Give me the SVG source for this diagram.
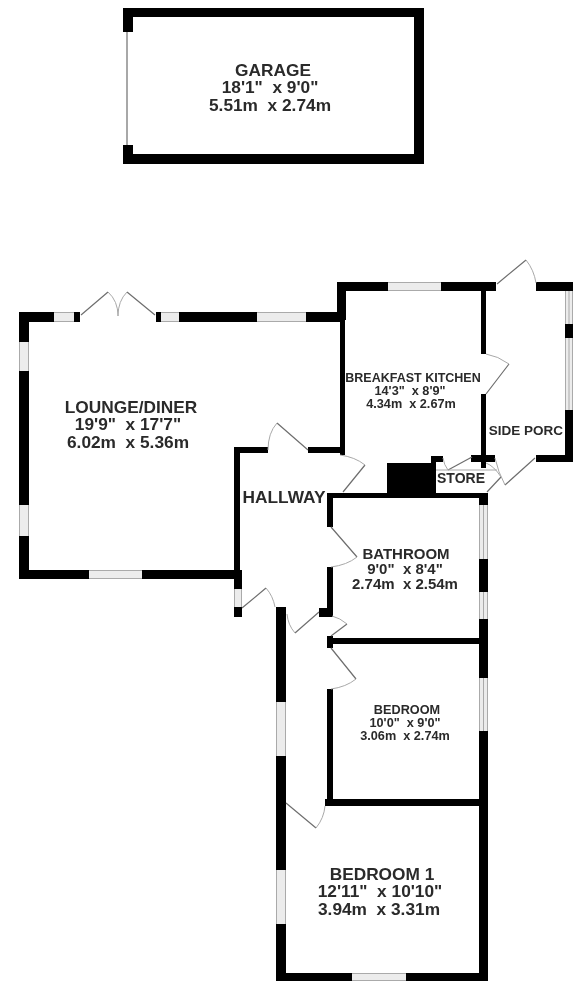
<svg xmlns="http://www.w3.org/2000/svg" width="573" height="981" viewBox="0 0 573 981">
<style>
.w{fill:#000}
.d{fill:none;stroke:#6e6e6e;stroke-width:1.2}
.a{fill:none;stroke:#a8a8a8;stroke-width:1}
.wb{fill:#ececec}
.wl{stroke:#aaa;stroke-width:1;fill:none}
text{font-family:"Liberation Sans",Arial,sans-serif;font-weight:bold;fill:#2a2a2a;text-anchor:middle;white-space:pre}
.l{font-size:17.300px}
.m{font-size:15px}
.s{font-size:12.700px}
</style>
<defs>
<filter id="soft" x="0" y="0" width="100%" height="100%"><feGaussianBlur stdDeviation="0.55"/></filter>
</defs>
<rect width="573" height="981" fill="#fff"/>
<g filter="url(#soft)">
<g id="windows">
<path class="wb" d="M54 312h20v10h-20zM161 312h18v10h-18zM257 312h49v10h-49zM19 342h10v29h-10zM19 505h10v31h-10zM89 570h53v9h-53zM234 589h8v18h-8zM388 282h53v9h-53zM565 291h8v119h-8zM479 505h9v54h-9zM479 592h9v27h-9zM479 678h9v53h-9zM276 702h10v54h-10zM276 870h10v54h-10zM352 973h54v8h-54z"/>
<path class="wl" d="M54 312.500h20M54 321.500h20M161 312.500h18M161 321.500h18M257 312.500h49M257 321.500h49M19.500 342v29M28.500 342v29M19.500 505v31M28.500 505v31M89 570.500h53M89 578.500h53M234.500 589v18M241.500 589v18M388 282.500h53M388 290.500h53M565.500 291v119M569 291v119M572.500 291v119M479.500 505v54M483.500 505v54M487.500 505v54M479.500 592v27M483.500 592v27M487.500 592v27M479.500 678v53M483.500 678v53M487.500 678v53M276.500 702v54M285.500 702v54M276.500 870v54M285.500 870v54M352 973.500h54M352 980.500h54"/>
</g>
<g id="walls">
<path class="w" d="M123 8H424V164H123V145H133V154H414V17H133V32H123Z"/>
<path class="w" d="M19 312H54V322H29V342H19ZM19 371H29V505H19ZM19 536H29V570H89V579H19ZM74 312H80V322H74ZM156 312H161V322H156ZM179 312H257V322H179ZM306 312H340V322H306ZM142 570H234V447H268V453H240V570H242V589H234V579H142ZM234 607H242V617H234Z"/>
<path class="w" d="M308 447H340V322H337V282H388V291H346V320H345V455H340V453H308ZM441 282H496V291H486V354H481V291H441ZM481 394H486V455H495V462H486V468H481V462H471V455H481ZM536 282H573V291H536ZM565 324H573V338H565ZM565 410H573V462H536V455H565Z"/>
<path class="w" d="M387 463H431V456H443V462H436V493H488V505H479V498H333V527H327V493H387ZM327 567H333V617H319V608H327Z"/>
<path class="w" d="M479 559H488V592H479ZM479 619H488V678H479ZM479 731H488V981H406V973H479V806H325V799H327V689H333V799H479ZM327 636H333V638H479V644H333V648H327ZM276 607H286V702H276ZM276 756H286V870H276ZM276 924H286V973H352V981H276Z"/>
</g>
<g id="doors">
<path class="d" d="M127 32V145"/>
<path class="d" d="M81 315L108 292M155 315L127 292M308 450L277 423M486 394L509 364M497 284L526 260M535 458L505 485M472 457L448 470M487 492L501 477M331 527L357 557M331 648L356 679M331 636L347 624M319 612L295 633M242 608L266 588M286 803L316 828M343 492L365 465"/>
<path class="a" d="M108 292Q118 301 118 316Q118 301 127 292M277 423Q268 433 268 450M509 364Q498 356 486 354M526 260Q534 270 536 283M505 485Q498 472 495 458M448 470Q444 465 443 458M501 477Q494 466 486 463M357 557Q347 565 331 567M356 679Q346 687 331 689M347 624Q340 618 332 616M295 633Q288 625 287 614M266 588Q273 596 275 607M316 828Q324 818 325 806M365 465Q355 457 340 455"/>
<path class="a" d="M436 470H497"/>
</g>
<g id="garage"><text class="l" x="273" y="76">GARAGE</text><text class="l" x="270" y="93">18'1"  x 9'0"</text><text class="l" x="270" y="111">5.51m  x 2.74m</text></g>
<g id="lounge"><text class="l" x="131" y="413">LOUNGE/DINER</text><text class="l" x="128" y="430">19'9"  x 17'7"</text><text class="l" x="128" y="448">6.02m  x 5.36m</text></g>
<g id="hallway"><text class="l" x="284" y="503">HALLWAY</text></g>
<g id="kitchen"><text font-size="12.500" x="413" y="382">BREAKFAST KITCHEN</text><text class="s" x="410" y="395">14'3"  x 8'9"</text><text class="s" x="411" y="408">4.34m  x 2.67m</text></g>
<g id="porch"><text font-size="13.500" x="526" y="435">SIDE PORC</text></g>
<g id="store"><text font-size="14" x="461" y="483">STORE</text></g>
<g id="bathroom"><text class="m" x="406" y="559">BATHROOM</text><text class="m" x="405" y="574">9'0"  x 8'4"</text><text class="m" x="405" y="589">2.74m  x 2.54m</text></g>
<g id="bedroom"><text class="s" x="407" y="714">BEDROOM</text><text class="s" x="405" y="727">10'0"  x 9'0"</text><text class="s" x="405" y="740">3.06m  x 2.74m</text></g>
<g id="bedroom1"><text class="l" x="382" y="880">BEDROOM 1</text><text class="l" x="380" y="897">12'11"  x 10'10"</text><text class="l" x="379" y="915">3.94m  x 3.31m</text></g>
</g>
</svg>
